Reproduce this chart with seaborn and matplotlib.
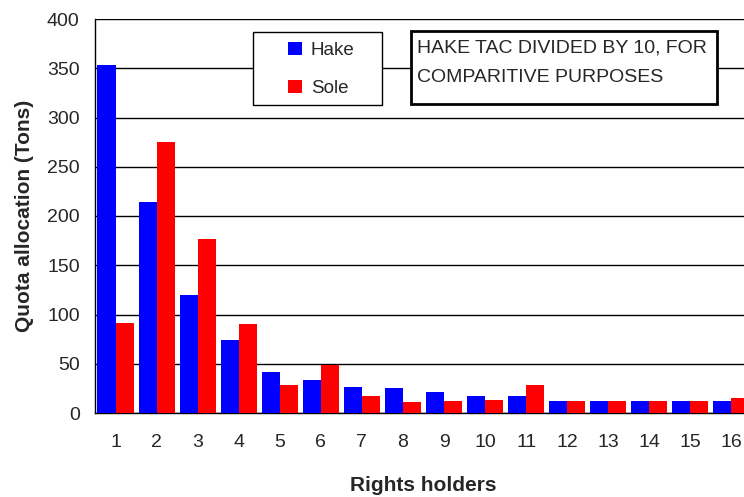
import matplotlib
matplotlib.use("Agg")
import matplotlib.pyplot as plt
import seaborn as sns
import pandas as pd
import numpy as np
from matplotlib.ticker import FixedLocator
from matplotlib.patches import Rectangle

holders = [str(i) for i in range(1, 17)]
hake = [353, 214, 120, 74, 42, 34, 26, 25, 21, 17, 17, 12, 12, 12, 12, 12]
sole = [91, 275, 177, 90, 28, 49, 17, 11, 12, 13, 28, 12, 12, 12, 12, 15]
species = ["Hake", "Sole"]
colors = ["#0000FF", "#FF0000"]
note_lines = ["HAKE TAC DIVIDED BY 10, FOR", "COMPARITIVE PURPOSES"]

df = pd.DataFrame({
    "holder": holders * 2,
    "quota": hake + sole,
    "species": [species[0]] * len(holders) + [species[1]] * len(holders),
})

sns.set_style("white")
plt.rcParams["font.family"] = ["Liberation Sans", "DejaVu Sans"]

W, H = 744, 497
fig = plt.figure(figsize=(W / 100, H / 100), dpi=100)
ax = fig.add_axes([95 / W, 84 / H, 657 / W, 394 / H])

sns.barplot(data=df, x="holder", y="quota", hue="species", order=holders,
            hue_order=species, palette=colors, width=0.88, saturation=1,
            edgecolor="none", linewidth=0, ax=ax, zorder=3)

ax.set_xlim(-0.5, 15.5)
ax.set_ylim(0, 400)
ax.set_yticks(np.arange(0, 401, 50))
ax.yaxis.grid(True, color="black", linewidth=1.0, zorder=0)
ax.set_axisbelow(True)

# group separators as outward tick marks, labels centred under groups
ax.xaxis.set_minor_locator(FixedLocator(np.arange(-0.5, 16, 1)))
ax.tick_params(axis="x", which="major", length=0, labelsize=14, pad=15)
ax.tick_params(axis="x", which="minor", length=5, width=1, color="#555555",
               direction="out")
ax.tick_params(axis="y", which="major", length=6, width=1, color="black",
               direction="out", labelsize=14, pad=5)

for s in ["top", "right"]:
    ax.spines[s].set_visible(False)
for s in ["left", "bottom"]:
    ax.spines[s].set_color("black")
    ax.spines[s].set_linewidth(1.0)

ax.set_xlabel("Rights holders", fontsize=15, fontweight="bold", labelpad=18)
ax.set_ylabel("Quota allocation (Tons)", fontsize=15, fontweight="bold",
              labelpad=9)

# legend box
ax.add_patch(Rectangle((253 / W, 1 - 105 / H), 129 / W, 73 / H,
                       transform=fig.transFigure, facecolor="white",
                       edgecolor="black", linewidth=1.0, zorder=5,
                       clip_on=False))
leg = ax.legend(loc="center left",
                bbox_to_anchor=(288 / W, 1 - 69.5 / H),
                bbox_transform=fig.transFigure,
                frameon=False, fontsize=13.5, handlelength=0.72,
                handleheight=0.72, labelspacing=1.1, handletextpad=0.5,
                borderaxespad=0, borderpad=0)
leg.set_title(None)
leg.set_zorder(6)

# note box
ax.add_patch(Rectangle((411 / W, 1 - 104 / H), 306 / W, 73 / H,
                       transform=fig.transFigure, facecolor="white",
                       edgecolor="black", linewidth=2.0, zorder=5,
                       clip_on=False))
for i, line in enumerate(note_lines):
    ax.text(417 / W, 1 - (52.5 + 29 * i) / H, line,
            transform=fig.transFigure, ha="left", va="baseline",
            fontsize=14, zorder=6)

fig.savefig("out.png", dpi=100)
